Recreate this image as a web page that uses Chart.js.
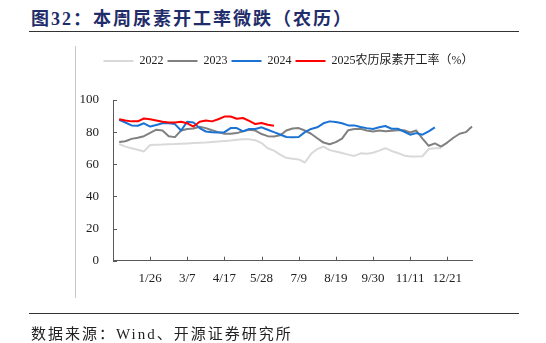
<!DOCTYPE html>
<html>
<head>
<meta charset="utf-8">
<script src="https://cdn.jsdelivr.net/npm/chart.js@4.4.1/dist/chart.umd.min.js"></script>
<style>
html, body { margin: 0; padding: 0; background: #fff; }
body { width: 546px; height: 343px; position: relative; overflow: hidden;
  font-family: "Liberation Serif", "Noto Sans CJK SC", serif; }
#title { position: absolute; left: 31px; top: 4px; font-size: 18px; font-weight: bold;
  color: #1f2d6b; letter-spacing: 2px; white-space: nowrap; }
.rule { position: absolute; left: 29px; width: 490px; height: 1px; background: #333; }
#frame { position: absolute; left: 75px; top: 46px; width: 1px; height: 252px; background: #c8c8c8; }
#source { position: absolute; left: 31px; top: 322px; font-size: 15px; color: #222;
  letter-spacing: 2px; white-space: nowrap; }
#c { position: absolute; left: 0; top: 0; }
</style>
</head>
<body>
<div id="title">图32：本周尿素开工率微跌（农历）</div>
<div class="rule" style="top:31px"></div>
<div id="frame"></div>
<canvas id="c" width="546" height="343"></canvas>
<div class="rule" style="top:313px"></div>
<div id="source">数据来源：Wind、开源证券研究所</div>

<script>
const FONT = '"Liberation Serif", "Noto Sans CJK SC", serif';
const AXIS = "#595959";

// x axis: 59 week slots, a label every 6th slot
const xTickLabels = ["1/26", "3/7", "4/17", "5/28", "7/9", "8/19", "9/30", "11/11", "12/21"];
const slotCount = 59;
const tickEvery = 6;
const categories = [];
for (let i = 0; i < slotCount; i++) {
  categories.push(i > 0 && i % tickEvery === 0 ? xTickLabels[i / tickEvery - 1] : "");
}

const yTicks = [0, 20, 40, 60, 80, 100];

const y2022 = [null,
  72.6, 71, 70, 69, 68, 72, 72.2, 72.3, 72.5, 72.6,
  72.8, 73, 73.2, 73.4, 73.6, 73.9, 74.2, 74.5, 74.8, 75.2,
  75.6, 75.5, 75, 73.2, 70, 68.5, 66, 64, 63.5, 63,
  61.1, 66.5, 69.5, 71, 68.8, 68, 67, 66, 65.2, 66.8,
  66.6, 67.2, 68.5, 70, 68.3, 67, 65.5, 64.8, 64.8, 65,
  69.5, 70, 70];

const y2023 = [null,
  73.8, 74.3, 75.8, 76.5, 77.5, 79.5, 81.5, 81, 77.5, 76.9,
  81, 82, 82.3, 83.3, 82.5, 81.2, 80, 79, 79, 79.4,
  80.5, 81.5, 81, 78.8, 77.5, 77.3, 78, 81, 82.3, 82.5,
  81, 79, 76.2, 73.5, 72.5, 73.8, 76, 81.2, 82, 82.1,
  81, 80.4, 81, 80.5, 80.9, 81.2, 81.2, 79.8, 81, 76,
  71.5, 73, 71, 73.5, 76.5, 79, 80, 83.5];

const y2024 = [null,
  87.7, 86, 84.2, 84, 85.5, 83.5, 84.5, 85.5, 85.5, 85,
  81, 86.5, 86, 82.5, 80.4, 80, 79.8, 80, 82.5, 82.5,
  80.5, 82, 82, 83, 81.5, 80, 78.5, 77, 76.8, 77,
  80, 82, 83, 85.5, 86.7, 86.3, 85.5, 84.2, 84.2, 83.2,
  82.5, 82, 83, 83.8, 82.1, 82.1, 80.4, 78.4, 79.4, 78.4,
  80.5, 83];

const y2025 = [null,
  88, 87.2, 86.7, 86.7, 88.5, 88, 87.3, 86.5, 86, 86,
  86.5, 85.5, 83.5, 86.5, 87.3, 86.7, 88, 89.7, 89.7, 88.3,
  88.8, 87, 85, 85.7, 84.6, 84];

function series(label, data, color, order) {
  return {
    label: label, data: data, order: order,
    borderColor: color, backgroundColor: color,
    borderWidth: 2, pointRadius: 0, pointStyle: "line",
    tension: 0, borderJoinStyle: "round", spanGaps: false
  };
}

// inward tick marks, as in the source chart
const inwardTicks = {
  id: "inwardTicks",
  afterDraw(chart) {
    const { ctx, scales: { x, y } } = chart;
    ctx.save();
    ctx.strokeStyle = AXIS;
    ctx.lineWidth = 1;
    ctx.beginPath();
    categories.forEach((lab, i) => {
      if (!lab) return;
      const px = Math.round(x.getPixelForValue(i)) + 0.5;
      ctx.moveTo(px, y.bottom);
      ctx.lineTo(px, y.bottom - 4);
    });
    yTicks.forEach(v => {
      const py = Math.round(y.getPixelForValue(v)) + 0.5;
      ctx.moveTo(x.left, py);
      ctx.lineTo(x.left + 4, py);
    });
    ctx.stroke();
    ctx.restore();
  }
};

// leave room under the legend
const legendSpace = {
  id: "legendSpace",
  beforeInit(chart) {
    const fit = chart.legend.fit;
    chart.legend.fit = function () {
      fit.call(this);
      this.height += 23;
    };
  }
};

new Chart(document.getElementById("c"), {
  type: "line",
  data: {
    labels: categories,
    datasets: [
      series("2022", y2022, "#d9d9d9", 3),
      series("2023", y2023, "#808080", 2),
      series("2024", y2024, "#1a73d4", 1),
      series("2025农历尿素开工率（%）", y2025, "#ff0000", 0)
    ]
  },
  options: {
    responsive: false,
    animation: false,
    layout: { padding: { left: 75, right: 44, top: 51, bottom: 0 } },
    plugins: {
      legend: {
        position: "top",
        labels: {
          usePointStyle: true, pointStyleWidth: 30, padding: 4,
          color: "#222", font: { family: FONT, size: 12 },
          sort: (a, b) => a.datasetIndex - b.datasetIndex
        }
      },
      tooltip: { enabled: false }
    },
    scales: {
      x: {
        type: "category", offset: false,
        grid: { display: false, drawTicks: false },
        border: { display: true, color: AXIS, width: 1 },
        ticks: { autoSkip: false, maxRotation: 0, padding: 10, color: "#222",
          font: { family: FONT, size: 13 } },
        afterFit: s => { s.height = 82.3; }
      },
      y: {
        min: 0, max: 100,
        grid: { display: false, drawTicks: false },
        border: { display: true, color: AXIS, width: 1 },
        ticks: { stepSize: 20, padding: 14, color: "#222", font: { family: FONT, size: 13 } },
        afterFit: s => { s.width = 38; }
      },
      yR: {
        type: "linear", position: "right",
        grid: { display: false, drawTicks: false },
        border: { display: false },
        ticks: { display: false },
        afterFit: s => { s.width = 30; }
      }
    }
  },
  plugins: [inwardTicks, legendSpace]
});
</script>
</body>
</html>
